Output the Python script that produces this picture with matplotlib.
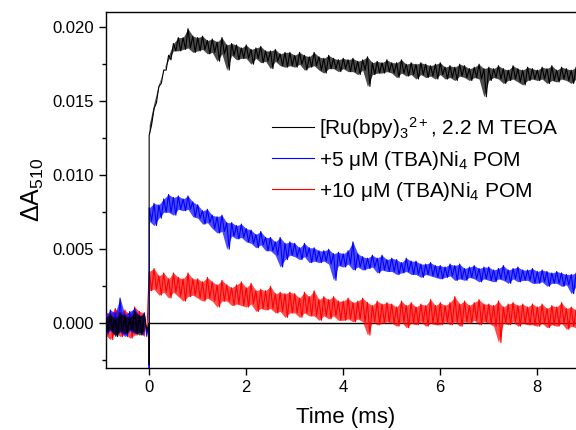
import numpy as np
import matplotlib
matplotlib.use('Agg')
from matplotlib import pyplot as plt
from matplotlib.ticker import MultipleLocator, FormatStrFormatter

plt.rcParams['font.family'] = ['Liberation Sans', 'DejaVu Sans']
plt.rcParams['mathtext.fontset'] = 'custom'
plt.rcParams['mathtext.rm'] = 'Liberation Sans'
plt.rcParams['mathtext.it'] = 'Liberation Sans:italic'

# traces, in units of 1e-3 absorbance
# "hi" samples sit at t, "lo" samples at t + 0.05 ms (noise band top / bottom)
labels = [r'[Ru(bpy)$_3$$^{2+}$, 2.2 M TEOA',
          r'+5 μM (TBA)Ni$_4$ POM',
          r'+10 μM (TBA)Ni$_4$ POM']
colors = ['black', 'blue', 'red']

# before the flash, t = -0.9 .. -0.1 ms
black_pre_hi = [0.4, 0.6, 0.3, 0.7, 0.5, 0.4, 0.8, 0.5, 0.6]
black_pre_lo = [-0.6, -0.4, -0.9, -0.5, -0.7, -0.4, -0.6, -0.8, -0.5]
blue_pre_hi = [0.5, 0.9, 0.7, 1.7, 0.6, 0.8, 1.0, 0.5, 0.7]
blue_pre_lo = [-0.7, -0.5, -0.8, -0.6, -0.9, -0.5, -0.7, -0.6, -0.8]
red_pre_hi = [0.8, 0.6, 1.0, 0.7, 0.9, 0.6, 1.1, 0.8, 0.7]
red_pre_lo = [-0.8, -1.1, -0.6, -0.9, -0.7, -1.0, -0.8, -0.6, -0.9]

# dip at the flash (t = 0)
flash_dip = [-2.8, -5.0, None]

# after the flash, t = 0.0 .. 8.9 ms
black_hi = [12.7, 14.5, 16.0, 17.1, 18.1, 18.9, 19.3, 19.3, 19.9, 19.4,
            19.3, 19.4, 19.1, 19.2, 19.0, 19.3, 18.8, 18.9, 18.8, 18.6,
            18.8, 18.5, 18.6, 18.7, 18.4, 18.4, 18.5, 18.2, 18.3, 18.3,
            18.1, 18.3, 18.1, 18.0, 18.3, 18.0, 17.9, 18.1, 17.9, 17.8,
            17.9, 17.8, 17.9, 17.7, 17.8, 18.0, 17.6, 17.7, 17.6, 17.8,
            17.6, 17.6, 17.8, 17.5, 17.6, 17.5, 17.6, 17.5, 17.4, 17.5,
            17.6, 17.3, 17.4, 17.3, 17.5, 17.4, 17.2, 17.3, 17.5, 17.2,
            17.3, 17.2, 17.4, 17.2, 17.1, 17.4, 17.2, 17.1, 17.3, 17.2,
            17.1, 17.3, 17.2, 17.4, 17.1, 17.3, 17.2, 17.1, 17.3, 17.2]
black_lo = [13.4, 14.9, 16.2, 17.1, 17.8, 18.4, 18.4, 18.5, 18.6, 18.3,
            18.4, 18.5, 18.2, 18.3, 17.7, 18.2, 17.1, 18.1, 17.8, 17.9,
            17.9, 17.5, 17.9, 17.6, 17.7, 17.2, 17.7, 17.4, 17.3, 17.4,
            17.3, 17.5, 17.1, 17.3, 17.4, 17.1, 16.9, 17.2, 17.2, 17.0,
            17.2, 17.0, 17.0, 16.8, 17.1, 16.0, 16.8, 16.9, 16.9, 17.0,
            16.9, 16.6, 16.9, 16.7, 16.8, 16.5, 16.8, 16.6, 16.7, 16.5,
            16.8, 16.5, 16.6, 16.4, 16.7, 16.6, 16.4, 16.6, 16.5, 15.3,
            16.4, 16.6, 16.5, 16.2, 16.4, 16.5, 16.3, 16.1, 16.4, 16.5,
            16.4, 16.5, 16.2, 16.4, 16.3, 16.5, 16.4, 16.2, 16.5, 16.3]

blue_hi = [7.8, 8.1, 8.0, 8.4, 8.7, 8.5, 8.6, 8.4, 8.6, 8.2,
           8.0, 7.6, 7.7, 7.3, 7.2, 7.3, 6.8, 6.8, 6.6, 6.7,
           6.4, 6.3, 6.0, 6.2, 5.8, 5.8, 5.5, 5.8, 5.4, 5.5,
           5.4, 5.1, 5.4, 5.1, 5.1, 4.9, 4.9, 5.0, 4.7, 4.8,
           4.7, 4.9, 5.5, 4.7, 4.5, 4.4, 4.6, 4.4, 4.6, 4.3,
           4.4, 4.3, 4.1, 4.4, 4.2, 4.2, 4.0, 4.0, 4.1, 3.9,
           3.9, 3.8, 4.0, 3.9, 4.0, 3.7, 3.8, 3.9, 3.7, 3.8,
           3.8, 3.6, 3.7, 3.9, 3.6, 3.7, 3.8, 3.6, 3.6, 3.7,
           3.5, 3.6, 3.5, 3.4, 3.5, 3.4, 3.3, 3.3, 3.4, 3.2]
blue_lo = [6.9, 6.6, 7.1, 7.5, 7.5, 7.3, 7.7, 7.6, 7.7, 7.2,
           7.1, 6.7, 6.8, 6.4, 6.1, 6.2, 5.0, 5.9, 5.7, 5.8,
           5.5, 5.4, 5.1, 5.3, 4.9, 4.9, 4.6, 3.8, 4.3, 4.6,
           4.5, 4.3, 4.5, 4.1, 4.2, 4.1, 4.2, 4.0, 2.9, 3.9,
           3.8, 4.0, 3.6, 3.8, 3.6, 3.7, 3.8, 3.4, 3.6, 3.5,
           3.5, 3.3, 3.4, 3.5, 3.3, 3.3, 3.1, 3.3, 3.2, 3.1,
           3.0, 3.1, 3.2, 2.9, 3.0, 2.9, 3.1, 3.0, 2.8, 3.0,
           2.9, 2.8, 3.0, 2.9, 2.7, 3.0, 2.8, 2.9, 2.9, 2.7,
           2.7, 2.8, 2.5, 2.7, 2.7, 2.5, 2.6, 2.0, 2.5, 2.6]

red_hi = [3.5, 3.7, 3.2, 3.4, 3.0, 3.4, 3.1, 3.0, 3.4, 3.0,
          3.0, 2.8, 3.1, 2.8, 2.6, 2.9, 2.6, 2.4, 2.6, 2.8,
          2.4, 2.7, 2.2, 2.3, 2.2, 2.5, 2.0, 2.1, 2.0, 2.1,
          2.0, 1.7, 2.1, 1.8, 2.2, 1.6, 1.8, 1.6, 1.8, 1.5,
          1.5, 1.7, 1.4, 1.5, 1.7, 1.4, 1.2, 1.5, 1.3, 1.4,
          1.3, 1.1, 1.5, 1.2, 1.4, 1.1, 1.3, 1.2, 1.6, 1.2,
          1.4, 1.2, 1.4, 1.8, 1.3, 1.5, 1.2, 1.4, 1.6, 1.3,
          1.3, 1.2, 1.5, 1.1, 1.3, 1.4, 1.2, 1.3, 1.1, 1.3,
          1.1, 1.3, 1.0, 1.2, 1.1, 1.4, 1.0, 1.1, 0.9, 1.2]
red_lo = [2.2, 2.3, 1.9, 2.1, 1.7, 2.1, 1.8, 1.5, 1.8, 1.9,
          1.7, 1.5, 1.7, 1.5, 1.1, 1.5, 1.5, 1.2, 1.3, 1.2,
          1.1, 1.3, 0.8, 1.0, 0.9, 1.0, 0.7, 0.8, 0.4, 0.7,
          0.7, 0.4, 0.7, 0.5, 0.5, 0.2, 0.5, 0.3, 0.5, 0.2,
          0.2, 0.3, 0.1, 0.3, 0.1, -0.8, 0.1, -0.1, 0.0, 0.1,
          0.0, -0.2, 0.1, -0.3, 0.0, -0.1, 0.1, -0.2, 0.0, -0.1,
          -0.1, 0.1, -0.1, 0.1, -0.2, 0.1, 0.0, 0.2, -0.1, 0.1,
          0.0, -0.2, -1.3, 0.0, -0.1, 0.1, -0.2, 0.0, -0.1, -0.1,
          -0.2, 0.0, -0.3, -0.1, -0.2, 0.0, -0.4, -0.2, -0.3, -0.1]

pre_t = np.arange(-9, 0) / 10
post_t = np.arange(90) / 10


def zigzag(t, hi, lo):
    x = np.empty(2 * len(t))
    y = np.empty(2 * len(t))
    x[0::2] = t
    x[1::2] = t + 0.05
    y[0::2] = hi
    y[1::2] = lo
    return x, y


series = [(black_pre_hi, black_pre_lo, black_hi, black_lo),
          (blue_pre_hi, blue_pre_lo, blue_hi, blue_lo),
          (red_pre_hi, red_pre_lo, red_hi, red_lo)]

fig = plt.figure(figsize=(5.76, 4.30), dpi=100)
ax = fig.add_axes([0.184, 0.1442, 0.833, 0.828])

# zero baseline after the flash
ax.plot([0, 9.5], [0, 0], color='black', lw=1.0, zorder=1)

handles = {}
for i in [2, 1, 0]:
    ph, pl, h, l = series[i]
    z = 2 + 2 * (2 - i)
    # noise band between the read top and bottom of the trace
    ax.fill_between(pre_t, np.array(ph) * 1e-3, np.array(pl) * 1e-3,
                    color=colors[i], alpha=0.7, lw=0, zorder=z)
    ax.fill_between(post_t, np.array(h) * 1e-3, np.array(l) * 1e-3,
                    color=colors[i], alpha=0.7, lw=0, zorder=z)
    x1, y1 = zigzag(pre_t, ph, pl)
    x2, y2 = zigzag(post_t, h, l)
    if flash_dip[i] is not None:
        xm, ym = [0, 0], [0, flash_dip[i]]
    else:
        xm, ym = [], []
    x = np.concatenate([x1, xm, x2])
    y = np.concatenate([y1, ym, y2]) * 1e-3
    ln, = ax.plot(x, y, color=colors[i], lw=0.8, zorder=z + 1)
    handles[i] = ln

ax.legend([handles[0], handles[1], handles[2]], labels, loc='upper left',
          bbox_to_anchor=(0.347, 0.711), frameon=False, fontsize=15,
          handlelength=2.0, handletextpad=0.25, labelspacing=0.38,
          borderaxespad=0, borderpad=0)

ax.set_xlim(-0.89, 9.0)
ax.set_ylim(-0.00302, 0.02103)
ax.xaxis.set_major_locator(MultipleLocator(2))
ax.yaxis.set_major_locator(MultipleLocator(0.005))
ax.yaxis.set_minor_locator(MultipleLocator(0.0025))
ax.yaxis.set_major_formatter(FormatStrFormatter('%.3f'))
ax.tick_params(axis='both', which='major', direction='out', length=5, width=1,
               labelsize=12)
ax.tick_params(axis='y', which='minor', direction='out', length=3, width=1)
for s in ax.spines.values():
    s.set_linewidth(1.0)

ax.set_xlabel('Time (ms)', fontsize=16, labelpad=9)
ax.set_ylabel(r'ΔA$_{510}$', fontsize=18, labelpad=5)

fig.savefig('out.png', dpi=100)
